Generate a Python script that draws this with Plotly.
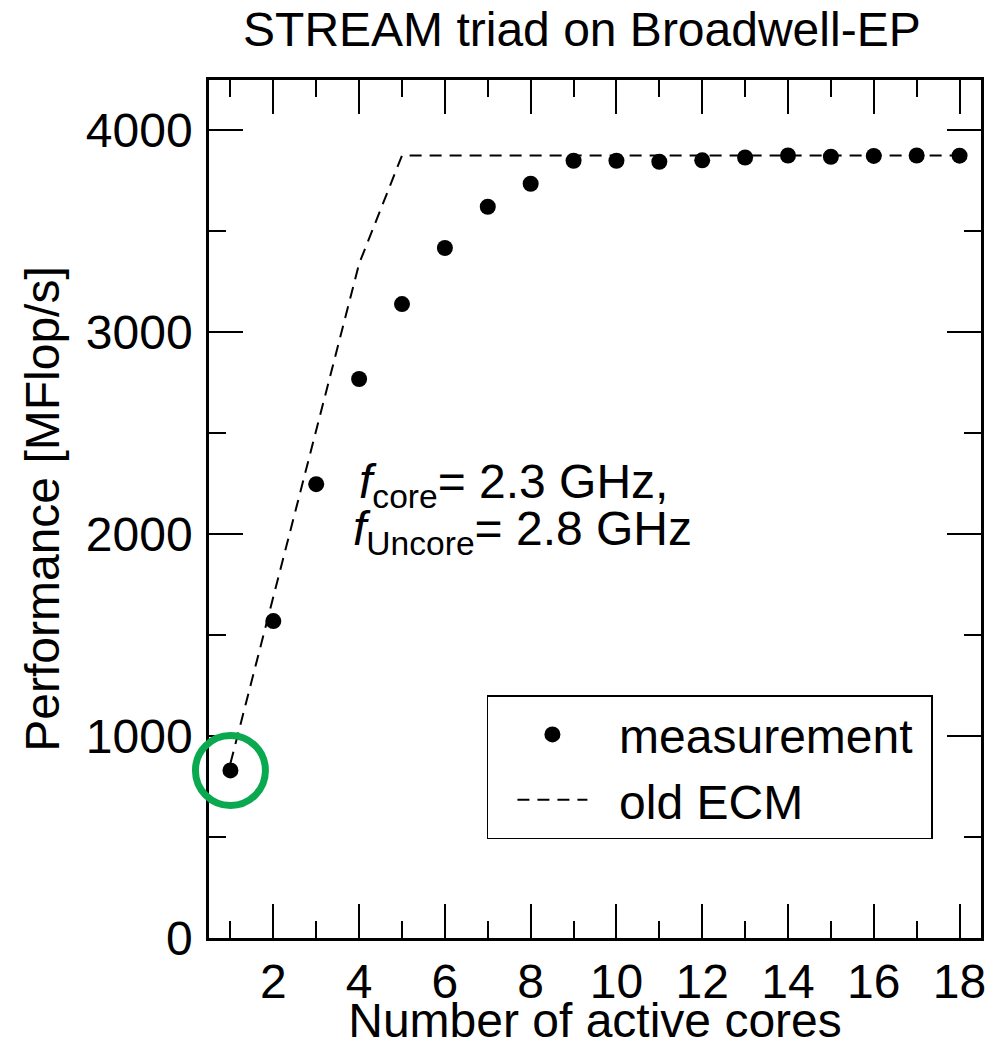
import plotly.graph_objects as go

cores = list(range(1, 19))
measured = [830, 1570, 2248, 2769, 3140, 3418, 3622, 3736, 3850, 3850,
            3845, 3852, 3866, 3876, 3870, 3874, 3876, 3875]
ecm_old = [865, 1690, 2510, 3340, 3876, 3876, 3876, 3876, 3876, 3876,
           3876, 3876, 3876, 3876, 3876, 3876, 3876, 3876]
x_ticks = [2, 4, 6, 8, 10, 12, 14, 16, 18]
y_ticks = [0, 1000, 2000, 3000, 4000]

FONT = "Liberation Sans, Arial, Helvetica, sans-serif"
FS = 48
NB = "\u00a0"

fig = go.Figure()
fig.add_trace(go.Scatter(
    x=cores, y=measured, mode="markers", name=NB * 2 + "measurement" + NB,
    marker=dict(color="black", size=16, symbol="circle"),
))
fig.add_trace(go.Scatter(
    x=cores, y=ecm_old, mode="lines", name=NB * 2 + "old ECM",
    line=dict(color="black", width=2, dash="12px,8px"),
))
# highlight circle around the single-core measurement
fig.add_trace(go.Scatter(
    x=[cores[0]], y=[measured[0]], mode="markers", showlegend=False,
    marker=dict(symbol="circle-open", size=70, color="#0aa84f",
                line=dict(width=7, color="#0aa84f")),
    cliponaxis=False, hoverinfo="skip",
))

axis_common = dict(
    showline=True, linecolor="black", linewidth=2.5, mirror="allticks",
    ticks="inside", ticklen=34, tickwidth=2, tickcolor="black",
    showgrid=False, zeroline=False, layer="below traces",
    tickfont=dict(family=FONT, size=FS, color="black"),
)

fig.update_xaxes(
    range=[0.5, 18.5], tickmode="array", tickvals=x_ticks,
    ticktext=[str(v) for v in x_ticks],
    minor=dict(ticks="inside", ticklen=17, tickwidth=2, tickcolor="black",
               dtick=1, tick0=1, showgrid=False),
    title=dict(text="Number of active cores",
               font=dict(family=FONT, size=FS, color="black"), standoff=7),
    **axis_common,
)
fig.update_yaxes(
    range=[0, 4250], tickmode="array", tickvals=y_ticks,
    ticktext=[str(v) for v in y_ticks], ticklabelstandoff=4,
    minor=dict(ticks="inside", ticklen=17, tickwidth=2, tickcolor="black",
               dtick=500, tick0=0, showgrid=False),
    title=dict(text="Performance [MFlop/s]",
               font=dict(family=FONT, size=FS, color="black"), standoff=12),
    **axis_common,
)

fig.add_annotation(
    x=3.95, y=2244, xref="x", yref="y", xanchor="left", yanchor="middle",
    text="<i>f</i><sub>core</sub>= 2.3 GHz,", showarrow=False,
    font=dict(family=FONT, size=FS, color="black"),
)
fig.add_annotation(
    x=3.8, y=2010, xref="x", yref="y", xanchor="left", yanchor="middle",
    text="<i>f</i><sub>Uncore</sub>= 2.8 GHz", showarrow=False,
    font=dict(family=FONT, size=FS, color="black"),
)

fig.update_layout(
    width=994, height=1047,
    margin=dict(l=209, r=13, t=80, b=109, autoexpand=False),
    paper_bgcolor="white", plot_bgcolor="white",
    title=dict(text="STREAM triad on Broadwell-EP", x=0.483, xref="paper",
               xanchor="center", y=1, yref="container", yanchor="top",
               pad=dict(t=12),
               font=dict(family=FONT, size=FS, color="black")),
    legend=dict(x=0.36, y=0.283, xanchor="left", yanchor="top",
                bordercolor="black", borderwidth=1.5, bgcolor="white",
                font=dict(family=FONT, size=FS, color="black"),
                itemwidth=70, indentation=24),
    showlegend=True,
)

fig.write_html(
    "out.html",
    config={"displayModeBar": False},
    post_script="document.body.style.margin='0';document.body.style.overflow='hidden';",
)
